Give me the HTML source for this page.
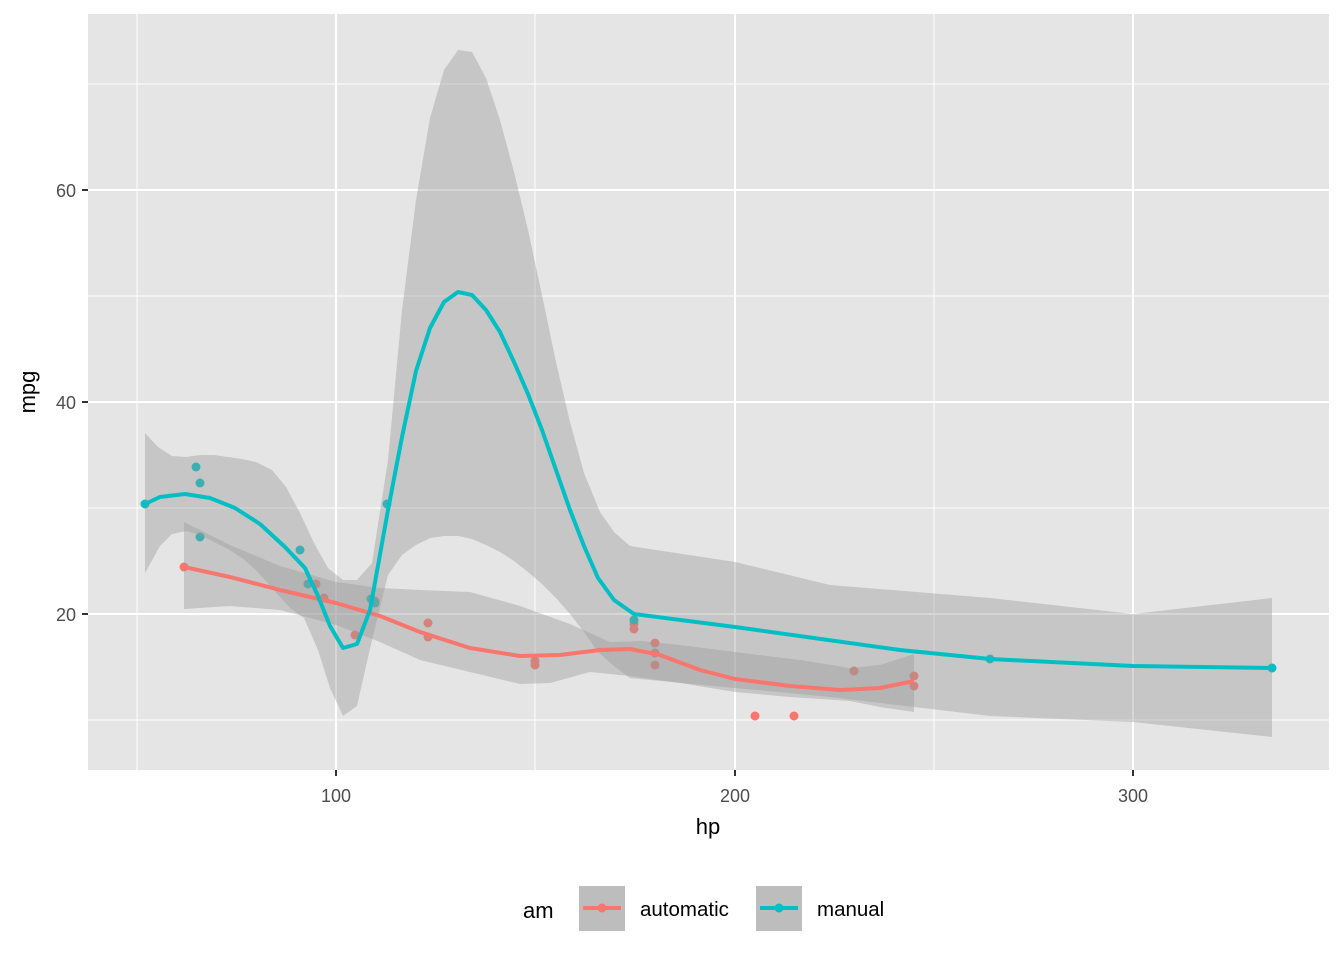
<!DOCTYPE html>
<html><head><meta charset="utf-8"><style>body{margin:0;background:#fff}svg{display:block;font-family:"Liberation Sans",sans-serif}</style></head><body>
<svg width="1344" height="960" xmlns="http://www.w3.org/2000/svg">
<rect x="88" y="14" width="1241" height="756" fill="#e5e5e5"/>
<g stroke="#fff" stroke-width="1">
<line x1="88" x2="1329" y1="84" y2="84"/><line x1="88" x2="1329" y1="296" y2="296"/><line x1="88" x2="1329" y1="508" y2="508"/><line x1="88" x2="1329" y1="720" y2="720"/>
<line y1="14" y2="770" x1="137" x2="137"/><line y1="14" y2="770" x1="535" x2="535"/><line y1="14" y2="770" x1="934" x2="934"/>
</g>
<g stroke="#fff" stroke-width="2">
<line x1="88" x2="1329" y1="190" y2="190"/><line x1="88" x2="1329" y1="402" y2="402"/><line x1="88" x2="1329" y1="614" y2="614"/>
<line y1="14" y2="770" x1="336" x2="336"/><line y1="14" y2="770" x1="735" x2="735"/><line y1="14" y2="770" x1="1133" x2="1133"/>
</g>
<g fill="#F8766D">
<circle cx="375" cy="601" r="4.5"/><circle cx="634" cy="629" r="4.5"/><circle cx="355" cy="635" r="4.5"/><circle cx="914" cy="676" r="4.5"/><circle cx="184" cy="567" r="4.5"/><circle cx="316" cy="584" r="4.5"/><circle cx="428" cy="623" r="4.5"/><circle cx="428" cy="637" r="4.5"/><circle cx="655" cy="653" r="4.5"/><circle cx="655" cy="643" r="4.5"/><circle cx="655" cy="665" r="4.5"/><circle cx="755" cy="716" r="4.5"/><circle cx="794" cy="716" r="4.5"/><circle cx="854" cy="671" r="4.5"/><circle cx="324" cy="598" r="4.5"/><circle cx="535" cy="661" r="4.5"/><circle cx="535" cy="665" r="4.5"/><circle cx="914" cy="686" r="4.5"/><circle cx="634" cy="624" r="4.5"/>
</g>
<g fill="#00BFC4">
<circle cx="375" cy="603" r="4.5"/><circle cx="308" cy="584" r="4.5"/><circle cx="200" cy="483" r="4.5"/><circle cx="145" cy="504" r="4.5"/><circle cx="196" cy="467" r="4.5"/><circle cx="200" cy="537" r="4.5"/><circle cx="300" cy="550" r="4.5"/><circle cx="387" cy="504" r="4.5"/><circle cx="990" cy="659" r="4.5"/><circle cx="634" cy="620" r="4.5"/><circle cx="1272" cy="668" r="4.5"/><circle cx="371" cy="599" r="4.5"/>
</g>
<g fill="#999" fill-opacity="0.4">
<polygon points="184,522 230,545 280,566 336,582 380,588 420,590 470,592 520,606 570,624 610,642 640,641 680,645 735,652 800,660 850,668 880,665 914,654 914,712 880,707 850,701 790,697 735,692 680,683 630,676 590,672 550,683 520,684 470,672 420,660 380,642 336,625 280,610 230,606 184,609"/>
<polygon points="145,433 158,447 172,456 186,457 200,455 214,455 228,457 242,459 256,462 272,470 286,487 300,513 314,543 328,568 343,580 357,580 372,563 388,460 402,310 416,200 430,118 444,70 458,50 472,52 486,78 500,120 514,172 528,230 542,295 556,362 570,422 584,473 600,512 614,532 630,546 735,562 830,585 990,598 1133,614 1272,598 1272,737 1133,722 990,716 830,697 735,688 630,678 614,666 598,652 584,632 570,614 556,598 542,584 528,572 514,561 500,552 486,545 472,539 458,536 444,536 430,538 416,545 402,555 388,575 372,640 357,706 343,716 330,688 318,650 304,618 290,608 272,588 256,570 242,558 228,549 214,542 200,535 186,531 172,534 160,546 145,573"/>
</g>
<polyline fill="none" stroke="#F8766D" stroke-width="4" stroke-linejoin="round" points="184,567 230,577 280,590 336,603 380,616 420,632 470,648 520,656 560,655 600,650 630,649 660,655 700,670 735,679 790,686 840,690 880,688 914,681"/>
<polyline fill="none" stroke="#00BFC4" stroke-width="4" stroke-linejoin="round" points="145,504 160,497 185,494 210,498 235,508 260,524 285,547 305,568 318,596 330,626 343,648 357,644 370,610 388,510 402,437 416,371 430,328 444,302 458,292 472,295 486,310 500,332 514,362 528,394 542,430 556,470 570,510 584,546 598,578 614,600 634,614 735,627 900,650 990,659 1133,666 1272,668"/>
<g stroke="#333" stroke-width="2">
<line x1="82" x2="88" y1="190" y2="190"/><line x1="82" x2="88" y1="402" y2="402"/><line x1="82" x2="88" y1="614" y2="614"/>
<line y1="770" y2="776" x1="336" x2="336"/><line y1="770" y2="776" x1="735" x2="735"/><line y1="770" y2="776" x1="1133" x2="1133"/>
</g>
<g fill="#4d4d4d" font-size="18" text-anchor="end">
<text x="76" y="197">60</text><text x="76" y="409">40</text><text x="76" y="621">20</text>
</g>
<g fill="#4d4d4d" font-size="18" text-anchor="middle">
<text x="336" y="802">100</text><text x="735" y="802">200</text><text x="1133" y="802">300</text>
</g>
<text x="708" y="834" font-size="22" text-anchor="middle">hp</text>
<text transform="translate(35,392) rotate(-90)" font-size="22" text-anchor="middle">mpg</text>
<text x="523" y="918" font-size="22">am</text>
<rect x="579" y="886" width="46" height="45" fill="#bdbdbd"/>
<line x1="583" x2="621" y1="908" y2="908" stroke="#F8766D" stroke-width="4"/><circle cx="602" cy="908" r="4.5" fill="#F8766D"/>
<text x="640" y="916" font-size="20.5">automatic</text>
<rect x="756" y="886" width="46" height="45" fill="#bdbdbd"/>
<line x1="760" x2="798" y1="908" y2="908" stroke="#00BFC4" stroke-width="4"/><circle cx="779" cy="908" r="4.5" fill="#00BFC4"/>
<text x="817" y="916" font-size="20.5">manual</text>
</svg>
</body></html>
